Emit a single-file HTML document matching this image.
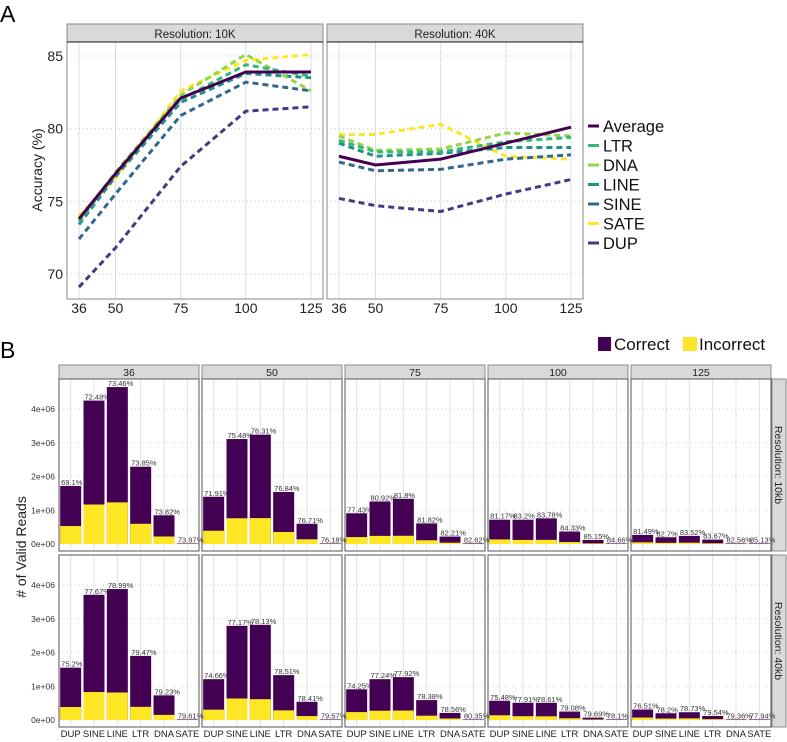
<!DOCTYPE html>
<html><head><meta charset="utf-8">
<style>
html,body{margin:0;padding:0;background:#fff;}
svg{display:block;font-family:"Liberation Sans",sans-serif;}
</style></head>
<body>
<svg id="chart" width="787" height="742" viewBox="0 0 787 742" xmlns="http://www.w3.org/2000/svg">
<text x="0" y="22" font-size="23">A</text>
<text x="0" y="358" font-size="23">B</text>
<text transform="translate(42,170) rotate(-90)" text-anchor="middle" font-size="14" fill="#222">Accuracy (%)</text>
<text transform="translate(26,547) rotate(-90)" text-anchor="middle" font-size="14" fill="#222"># of Valid Reads</text>
<g>
<rect x="598" y="337" width="13" height="14" fill="#440154"/>
<text x="614" y="350" font-size="17" fill="#111">Correct</text>
<rect x="683" y="337" width="14" height="14" fill="#fde725"/>
<text x="699" y="350" font-size="17" fill="#111">Incorrect</text>
</g>
</svg>
<script>
// ---------- Panel A data ----------
const aX = [36, 50, 75, 100, 125];
const aYTicks = [70, 75, 80, 85];
const seriesNames = ["Average","LTR","DNA","LINE","SINE","SATE","DUP"];
const seriesColors = ["#440154","#35b779","#8fd744","#21908c","#31688e","#fde725","#443a83"];
const acc10Average = [73.8, 76.9, 82.1, 83.9, 83.9];
const acc10LTR     = [73.6, 76.9, 82.0, 84.4, 83.6];
const acc10DNA     = [73.7, 77.0, 82.3, 85.1, 82.6];
const acc10LINE    = [73.4, 76.7, 81.8, 83.8, 83.5];
const acc10SINE    = [72.4, 75.5, 80.9, 83.2, 82.6];
const acc10SATE    = [74.0, 76.6, 82.6, 84.7, 85.1];
const acc10DUP     = [69.1, 71.8, 77.4, 81.2, 81.5];
const acc40Average = [78.1, 77.5, 77.9, 79.0, 80.1];
const acc40LTR     = [79.2, 78.4, 78.4, 79.1, 79.4];
const acc40DNA     = [79.5, 78.5, 78.6, 79.7, 79.5];
const acc40LINE    = [79.0, 78.1, 78.3, 78.7, 78.7];
const acc40SINE    = [77.7, 77.1, 77.2, 77.9, 78.2];
const acc40SATE    = [79.6, 79.6, 80.3, 78.1, 77.9];
const acc40DUP     = [75.2, 74.7, 74.3, 75.5, 76.5];
// ---------- Panel B data ----------
const bCategories = ["DUP","SINE","LINE","LTR","DNA","SATE"];
const bLengths = ["36","50","75","100","125"];
const bYTicks = [0, 1e6, 2e6, 3e6, 4e6];
const bYTickLabels = ["0e+00","1e+06","2e+06","3e+06","4e+06"];
const tot10_36  = [1.72e6, 4.25e6, 4.65e6, 2.29e6, 0.85e6, 0.012e6];
const tot10_50  = [1.40e6, 3.11e6, 3.24e6, 1.54e6, 0.60e6, 0.02e6];
const tot10_75  = [0.91e6, 1.26e6, 1.34e6, 0.61e6, 0.22e6, 0.02e6];
const tot10_100 = [0.72e6, 0.72e6, 0.76e6, 0.37e6, 0.12e6, 0.01e6];
const tot10_125 = [0.27e6, 0.20e6, 0.24e6, 0.13e6, 0.02e6, 0.005e6];
const tot40_36  = [1.55e6, 3.71e6, 3.88e6, 1.90e6, 0.73e6, 0.01e6];
const tot40_50  = [1.21e6, 2.79e6, 2.82e6, 1.33e6, 0.54e6, 0.01e6];
const tot40_75  = [0.91e6, 1.21e6, 1.27e6, 0.59e6, 0.21e6, 0.01e6];
const tot40_100 = [0.57e6, 0.51e6, 0.51e6, 0.25e6, 0.07e6, 0.005e6];
const tot40_125 = [0.31e6, 0.20e6, 0.23e6, 0.12e6, 0.02e6, 0.005e6];
const pct10_36  = ["69.1","72.48","73.46","73.85","73.82","73.97"];
const pct10_50  = ["71.91","75.48","76.31","76.84","76.71","76.18"];
const pct10_75  = ["77.43","80.92","81.8","81.82","82.21","82.62"];
const pct10_100 = ["81.17","83.2","83.78","84.33","85.15","84.66"];
const pct10_125 = ["81.49","82.7","83.52","83.67","82.56","85.13"];
const pct40_36  = ["75.2","77.67","78.99","79.47","79.23","79.61"];
const pct40_50  = ["74.66","77.17","78.13","78.51","78.41","79.57"];
const pct40_75  = ["74.25","77.24","77.92","78.38","78.56","80.35"];
const pct40_100 = ["75.48","77.91","78.61","79.08","79.69","78.1"];
const pct40_125 = ["76.51","78.2","78.73","79.54","79.36","77.94"];

const NS = "http://www.w3.org/2000/svg";
const svg = document.getElementById("chart");
function mk(tag, attrs, parent){ const e=document.createElementNS(NS,tag); for(const k in attrs) e.setAttribute(k,attrs[k]); (parent||svg).appendChild(e); return e; }

// ---------- Panel A ----------
const acc10 = [acc10Average,acc10LTR,acc10DNA,acc10LINE,acc10SINE,acc10SATE,acc10DUP];
const acc40 = [acc40Average,acc40LTR,acc40DNA,acc40LINE,acc40SINE,acc40SATE,acc40DUP];
const aTop=42, aBot=299;
function aY(v){ return aTop + (85.96 - v) * (aBot - aTop) / (85.96 - 68.28); }
const aPanels = [
  {x0:67, x1:323, title:"Resolution: 10K", data:acc10, name:"10k"},
  {x0:327, x1:583, title:"Resolution: 40K", data:acc40, name:"40k"}
];
aPanels.forEach((p, pi) => {
  const xs = v => p.x0 + (v - 31.4) * (p.x1 - p.x0) / (129.6 - 31.4);
  const g = mk("g", {});
  
  
  aX.forEach(v => {
    const l = mk("line", {x1:xs(v), x2:xs(v), y1:aTop, y2:aBot, stroke:"#dcdcdc", "stroke-width":1}, g);
    
    
    const t = mk("text", {x:xs(v), y:313, "text-anchor":"middle", "font-size":14, fill:"#222"}, g);
    t.textContent = v;
    
    
  });
  aYTicks.forEach(v => {
    const l = mk("line", {x1:p.x0, x2:p.x1, y1:aY(v), y2:aY(v), stroke:"#c8c8c8", "stroke-width":1, "stroke-dasharray":"1,3"}, g);
    
    
    if (pi === 0) {
      const t = mk("text", {x:63, y:aY(v)+5, "text-anchor":"end", "font-size":14, fill:"#222"}, g);
      t.textContent = v;
      
      
    }
  });
  for (let si = p.data.length - 1; si >= 0; si--) {
    const pts = p.data[si].map((v,i) => xs(aX[i]) + "," + aY(v)).join(" ");
    const pl = mk("polyline", {points:pts, fill:"none", stroke:seriesColors[si], "stroke-width":3,
      "stroke-dasharray": si === 0 ? "none" : "6,4"}, g);
    
    
  }
  const b = mk("rect", {x:p.x0, y:aTop, width:p.x1-p.x0, height:aBot-aTop, fill:"none", stroke:"#8a8a8a", "stroke-width":1}, g);
  
  
  const s = mk("rect", {x:p.x0, y:24, width:p.x1-p.x0, height:18, fill:"#d9d9d9", stroke:"#8a8a8a", "stroke-width":1}, g);
  
  
  mk("line", {x1:p.x0, x2:p.x1, y1:42, y2:42, stroke:"#111", "stroke-width":1}, g);
  const st = mk("text", {x:(p.x0+p.x1)/2, y:38, "text-anchor":"middle", "font-size":11.5, fill:"#222"}, g);
  st.textContent = p.title;
  
  
});
// legend A
const legA = mk("g", {});


seriesNames.forEach((n, i) => {
  const y = 126 + i * 19.5;
  const l = mk("line", {x1:588, x2:599, y1:y, y2:y, stroke:seriesColors[i], "stroke-width":3}, legA);
  
  
  const t = mk("text", {x:603, y:y+6, "font-size":16.5, fill:"#111"}, legA);
  t.textContent = n;
  
  
});

// ---------- Panel B ----------
const bTot = [[tot10_36,tot10_50,tot10_75,tot10_100,tot10_125],[tot40_36,tot40_50,tot40_75,tot40_100,tot40_125]];
const bPct = [[pct10_36,pct10_50,pct10_75,pct10_100,pct10_125],[pct40_36,pct40_50,pct40_75,pct40_100,pct40_125]];
const cols = [[59,199],[202,342],[345,485],[488,628],[631,771]];
const rows = [{top:379, bot:551, zero:544, label:"Resolution: 10kb"},{top:555, bot:727, zero:720, label:"Resolution: 40kb"}];
const perUnit = 33.75 / 1e6;
cols.forEach((c, ci) => {
  const s = mk("rect", {x:c[0], y:365, width:c[1]-c[0], height:14, fill:"#d9d9d9", stroke:"#8a8a8a", "stroke-width":1});
  
  
  const st = mk("text", {x:(c[0]+c[1])/2, y:376, "text-anchor":"middle", "font-size":10.5, fill:"#222"});
  st.textContent = bLengths[ci];
  
  
});
rows.forEach((r, ri) => {
  const rs = mk("rect", {x:772, y:r.top, width:14, height:r.bot-r.top, fill:"#d9d9d9", stroke:"#8a8a8a", "stroke-width":1});
  
  
  const rt = mk("text", {transform:"translate(775," + (r.top+r.bot)/2 + ") rotate(90)", "text-anchor":"middle", "font-size":10.5, fill:"#222"});
  rt.textContent = r.label;
  
  
  const yv = v => r.zero - v * perUnit;
  bYTicks.forEach((v, ti) => {
    const t = mk("text", {x:55, y:yv(v)+3, "text-anchor":"end", "font-size":8.5, fill:"#333"});
    t.textContent = bYTickLabels[ti];
    
    
  });
  cols.forEach((c, ci) => {
    const g = mk("g", {});
    
    
    const slot = (c[1] - c[0]) / 6;
    const xc = i => c[0] + slot * (i + 0.5);
    bCategories.forEach((n, i) => {
      const l = mk("line", {x1:xc(i), x2:xc(i), y1:r.top, y2:r.bot, stroke:"#e0e0e0", "stroke-width":1}, g);
      
      
    });
    bYTicks.forEach(v => {
      const l = mk("line", {x1:c[0], x2:c[1], y1:yv(v), y2:yv(v), stroke:"#cfcfcf", "stroke-width":1, "stroke-dasharray":"1,3"}, g);
      
      
    });
    const tots = bTot[ri][ci], pcts = bPct[ri][ci];
    bCategories.forEach((n, i) => {
      const tot = tots[i];
      const inc = tot * (1 - parseFloat(pcts[i]) / 100);
      const bw = slot * 0.9;
      const x = xc(i) - bw / 2;
      const h = Math.max(tot * perUnit, 0.6);
      const bar = mk("rect", {x:x, y:r.zero - h, width:bw, height:h, fill:"#440154"}, g);
      
      
      const hi = inc * perUnit;
      const bi = mk("rect", {x:x, y:r.zero - hi, width:bw, height:hi, fill:"#fde725"}, g);
      
      
      const t = mk("text", {x:x + 1, y:r.zero - h - 1, "font-size":7.5, fill:"#333"}, g);
      t.textContent = pcts[i] + "%";
      
      
      if (ri === 1) {
        const xt = mk("text", {x:xc(i), y:737, "text-anchor":"middle", "font-size":9.5, fill:"#222"}, g);
        xt.textContent = n;
        
        
      }
    });
    const b = mk("rect", {x:c[0], y:r.top, width:c[1]-c[0], height:r.bot-r.top, fill:"none", stroke:"#555", "stroke-width":1}, g);
    
    
  });
});
</script>
</body></html>
